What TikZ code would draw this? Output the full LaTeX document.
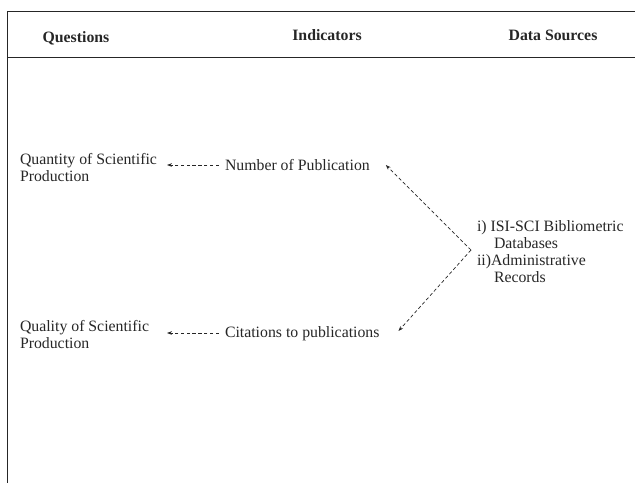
\documentclass[tikz,border=0pt]{standalone}
\usepackage{fontspec}
\setmainfont{Liberation Serif}
\usetikzlibrary{arrows.meta}
\begin{document}
\begin{tikzpicture}[x=1pt,y=-1pt,
  every node/.style={inner sep=0pt,outer sep=0pt,font=\fontsize{15.8}{17}\selectfont,text=black!85},
  hdr/.style={anchor=base,font=\fontsize{15.8}{17}\selectfont\bfseries},
  txt/.style={anchor=base west,align=left},
  frame/.style={line width=1pt,draw=black!85},
  arr/.style={-{Stealth[length=5pt,width=3.6pt]},dash pattern=on 3.4pt off 2.4pt,line width=0.7pt,draw=black!85}]
\useasboundingbox (0,0) rectangle (635,483);
% frame
\draw[frame] (635,11) -- (7,11) -- (7,483);
\draw[frame] (7,57) -- (635,57);
% headers
\node[hdr] (hq) at (76,42) {Questions};
\node[hdr] (hi) at (327,40) {Indicators};
\node[hdr] (hd) at (553,40) {Data Sources};
% questions
\node[txt] (q1) at (20,164) {Quantity of Scientific};
\node[txt] (q1b) at (20,181) {Production};
\node[txt] (q2) at (20,331) {Quality of Scientific};
\node[txt] (q2b) at (20,348) {Production};
% indicators
\node[txt] (num) at (225,170) {Number of Publication};
\node[txt] (cit) at (225,337) {Citations to publications};
% data sources
\node[txt] (d1) at (477,231) {i) ISI-SCI Bibliometric};
\node[txt] (d2) at (494,248) {Databases};
\node[txt] (d3) at (477,265) {ii)Administrative};
\node[txt] (d4) at (494,282) {Records};
\coordinate (v) at (471,250);
% arrows
\draw[arr] ([xshift=-6pt,yshift=5pt]num.base west) -- ++(-52,0);
\draw[arr] ([xshift=-6pt,yshift=4pt]cit.base west) -- ++(-52,0);
\draw[arr] (v) -- ([xshift=16pt,yshift=5pt]num.base east);
\draw[arr] (v) -- ([xshift=19pt,yshift=6pt]cit.base east);
\end{tikzpicture}
\end{document}
